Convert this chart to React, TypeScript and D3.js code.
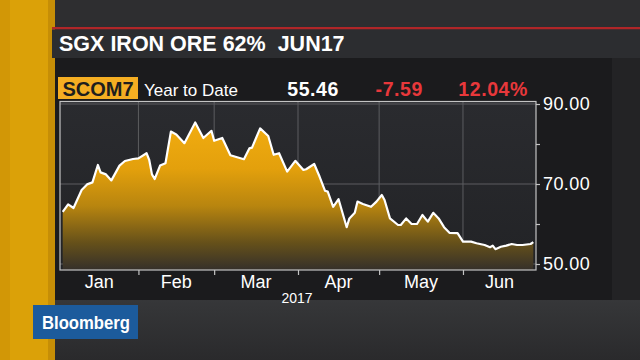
import React, { useEffect, useRef } from "react";
import * as d3 from "d3";

// SCOM7 settlement
const dates = [
  "2017-01-04", "2017-01-06", "2017-01-08", "2017-01-11", "2017-01-13", "2017-01-15",
  "2017-01-17", "2017-01-18", "2017-01-20", "2017-01-22", "2017-01-25", "2017-01-27",
  "2017-01-30", "2017-02-01", "2017-02-04", "2017-02-05", "2017-02-06", "2017-02-07",
  "2017-02-09", "2017-02-11", "2017-02-13", "2017-02-15", "2017-02-18", "2017-02-22",
  "2017-02-25", "2017-02-28", "2017-03-01", "2017-03-04", "2017-03-07", "2017-03-12",
  "2017-03-14", "2017-03-15", "2017-03-18", "2017-03-21", "2017-03-23", "2017-03-25",
  "2017-03-28", "2017-03-31", "2017-04-03", "2017-04-04", "2017-04-07", "2017-04-09",
  "2017-04-11", "2017-04-12", "2017-04-14", "2017-04-16", "2017-04-19", "2017-04-20",
  "2017-04-22", "2017-04-23", "2017-04-25", "2017-04-28", "2017-04-30", "2017-05-02",
  "2017-05-03", "2017-05-05", "2017-05-08", "2017-05-09", "2017-05-11", "2017-05-13",
  "2017-05-15", "2017-05-17", "2017-05-19", "2017-05-21", "2017-05-23", "2017-05-25",
  "2017-05-27", "2017-05-30", "2017-06-01", "2017-06-04", "2017-06-06", "2017-06-09",
  "2017-06-11", "2017-06-12", "2017-06-13", "2017-06-15", "2017-06-17", "2017-06-19",
  "2017-06-21", "2017-06-23", "2017-06-26", "2017-06-27",
];
const prices = [
  63.05, 64.9, 64.0, 68.5, 69.9, 70.4,
  74.75, 72.9, 72.4, 70.9, 74.6, 75.75,
  76.25, 76.4, 77.7, 76.0, 72.4, 71.25,
  74.6, 75.2, 83.1, 82.4, 80.2, 85.4,
  81.5, 83.3, 80.8, 81.5, 77.2, 76.2,
  78.9, 79.1, 83.9, 82.0, 77.3, 77.7,
  73.1, 75.8, 73.5, 73.7, 75.0, 71.8,
  68.3, 68.1, 64.3, 66.2, 59.2, 61.4,
  62.8, 65.6, 65.0, 64.3, 65.6, 67.25,
  66.0, 61.4, 59.75, 59.75, 61.4, 60.0,
  60.0, 62.25, 60.6, 62.8, 61.4, 59.2,
  57.8, 57.7, 55.6, 55.6, 55.2, 54.75,
  54.2, 54.6, 53.7, 54.3, 54.6, 55.0,
  54.75, 54.75, 55.0, 55.46,
];
const yTicks = [50, 60, 70, 80, 90];
const yLabelled = [50, 70, 90];
const xStart = "2017-01-03";
const xEnd = "2017-06-28";
const yearLabel = "2017";
const title = "SGX IRON ORE 62%\u00a0\u00a0JUN17";
const ticker = "SCOM7";
const period = "Year to Date";
const lastPrice = "55.46";
const netChange = "-7.59";
const pctChange = "12.04%";

const FONT = "'Liberation Sans', Arial, sans-serif";

function App() {
  const ref = useRef<SVGSVGElement>(null);

  useEffect(() => {
    document.body.style.margin = "0";
    drawChart();
  }, []);

  function drawChart() {
    const W = 640,
      H = 360;
    const left = 60,
      right = 536,
      top = 101.5,
      bottom = 270;

    const svg = d3.select(ref.current);
    svg.selectAll("*").remove();

    const parse = d3.timeParse("%Y-%m-%d");
    const data = dates.map((d, i) => ({ date: parse(d) as Date, value: prices[i] }));

    const xScale = d3
      .scaleTime()
      .domain([parse(xStart) as Date, parse(xEnd) as Date])
      .range([left, right]);
    const yScale = d3.scaleLinear().domain([48.5, 90.625]).range([bottom, top]);

    const defs = svg.append("defs");
    const areaGrad = defs
      .append("linearGradient")
      .attr("id", "areaGrad")
      .attr("gradientUnits", "userSpaceOnUse")
      .attr("x1", 0)
      .attr("x2", 0)
      .attr("y1", top)
      .attr("y2", bottom);
    [
      [0, "#f8b212"],
      [0.4, "#e3a00c"],
      [0.62, "#b8850f"],
      [0.84, "#65501a"],
      [1, "#35302a"],
    ].forEach(([o, c]) => areaGrad.append("stop").attr("offset", o).attr("stop-color", c));

    const bgGrad = defs
      .append("linearGradient")
      .attr("id", "bgGrad")
      .attr("x1", 0)
      .attr("x2", 0)
      .attr("y1", 0)
      .attr("y2", 1);
    bgGrad.append("stop").attr("offset", 0).attr("stop-color", "#363739");
    bgGrad.append("stop").attr("offset", 1).attr("stop-color", "#2a2a2c");

    const plotGrad = defs
      .append("linearGradient")
      .attr("id", "plotGrad")
      .attr("x1", 0)
      .attr("x2", 0)
      .attr("y1", 0)
      .attr("y2", 1);
    plotGrad.append("stop").attr("offset", 0).attr("stop-color", "#2a2b2f");
    plotGrad.append("stop").attr("offset", 1).attr("stop-color", "#222326");

    // backdrop
    svg.append("rect").attr("width", W).attr("height", H).attr("fill", "#2a2a2c");
    svg.append("rect").attr("x", 55).attr("y", 0).attr("width", W - 55).attr("height", 28).attr("fill", "#2e2e30");
    svg.append("rect").attr("x", 55).attr("y", 300).attr("width", W - 55).attr("height", 60).attr("fill", "url(#bgGrad)");

    // gold strip on the left
    svg.append("rect").attr("x", 0).attr("y", 0).attr("width", 55).attr("height", H).attr("fill", "#dba108");
    svg.append("rect").attr("x", 0).attr("y", 0).attr("width", 10).attr("height", H).attr("fill", "#d29706");
    svg.append("rect").attr("x", 48).attr("y", 0).attr("width", 7).attr("height", H).attr("fill", "#c68e06");

    // title bar
    svg.append("rect").attr("x", 52).attr("y", 27).attr("width", W - 52).attr("height", 2.5).attr("fill", "#b02628");
    svg.append("rect").attr("x", 52).attr("y", 29.5).attr("width", W - 52).attr("height", 28.5).attr("fill", "#2c2d30");
    svg
      .append("text")
      .attr("x", 59)
      .attr("y", 51)
      .attr("fill", "#ffffff")
      .attr("font-family", FONT)
      .attr("font-weight", "bold")
      .attr("font-size", 21.5)
      .text(title);

    // panel
    svg.append("rect").attr("x", 55).attr("y", 58).attr("width", 557).attr("height", 242).attr("fill", "#1b1b1d");
    svg.append("rect").attr("x", 612).attr("y", 58).attr("width", 28).attr("height", 242).attr("fill", "#232325");

    // header row
    svg.append("rect").attr("x", 58).attr("y", 77).attr("width", 80).attr("height", 22).attr("fill", "#f5ae22");
    svg
      .append("text")
      .attr("x", 98)
      .attr("y", 95.5)
      .attr("text-anchor", "middle")
      .attr("fill", "#1e1e1e")
      .attr("font-family", FONT)
      .attr("font-weight", "bold")
      .attr("font-size", 20)
      .text(ticker);
    svg
      .append("text")
      .attr("x", 144)
      .attr("y", 96)
      .attr("fill", "#ffffff")
      .attr("font-family", FONT)
      .attr("font-size", 17)
      .text(period);
    const stats = [
      { t: lastPrice, x: 339, c: "#ffffff" },
      { t: netChange, x: 423, c: "#e8383b" },
      { t: pctChange, x: 528, c: "#e8383b" },
    ];
    stats.forEach((s) =>
      svg
        .append("text")
        .attr("x", s.x)
        .attr("y", 96)
        .attr("text-anchor", "end")
        .attr("fill", s.c)
        .attr("font-family", FONT)
        .attr("font-weight", "bold")
        .attr("font-size", 19.5)
        .attr("letter-spacing", 0.6)
        .text(s.t)
    );

    // plot
    svg
      .append("rect")
      .attr("x", left)
      .attr("y", top)
      .attr("width", right - left)
      .attr("height", bottom - top)
      .attr("fill", "url(#plotGrad)");

    const monthStarts = d3.timeMonth.range(xScale.domain()[0], xScale.domain()[1]);
    // vertical grid at month boundaries
    svg
      .append("g")
      .selectAll("line")
      .data(monthStarts)
      .join("line")
      .attr("x1", (d) => xScale(d))
      .attr("x2", (d) => xScale(d))
      .attr("y1", top)
      .attr("y2", bottom)
      .attr("stroke", "#5c5d60")
      .attr("stroke-width", 1);
    // horizontal grid at labelled values
    svg
      .append("g")
      .selectAll("line")
      .data(yLabelled)
      .join("line")
      .attr("x1", left)
      .attr("x2", right)
      .attr("y1", (d) => yScale(d))
      .attr("y2", (d) => yScale(d))
      .attr("stroke", "#5c5d60")
      .attr("stroke-width", 1);

    const area = d3
      .area<{ date: Date; value: number }>()
      .x((d) => xScale(d.date))
      .y0(bottom)
      .y1((d) => yScale(d.value));
    const line = d3
      .line<{ date: Date; value: number }>()
      .x((d) => xScale(d.date))
      .y((d) => yScale(d.value));

    svg.append("path").datum(data).attr("fill", "url(#areaGrad)").attr("d", area);
    svg
      .append("path")
      .datum(data)
      .attr("fill", "none")
      .attr("stroke", "#ffffff")
      .attr("stroke-width", 2.2)
      .attr("stroke-linejoin", "round")
      .attr("d", line);

    svg
      .append("rect")
      .attr("x", left)
      .attr("y", top)
      .attr("width", right - left)
      .attr("height", bottom - top)
      .attr("fill", "none")
      .attr("stroke", "#c4c4c4")
      .attr("stroke-width", 1.2);

    // right axis
    const fmt = d3.format(".2f");
    const yAxis = svg
      .append("g")
      .attr("transform", `translate(${right},0)`)
      .call(
        d3
          .axisRight(yScale)
          .tickValues(yTicks)
          .tickSize(4)
          .tickPadding(3)
          .tickFormat((d) => (yLabelled.includes(+d) ? fmt(+d) : ""))
      );
    yAxis.select(".domain").remove();
    yAxis.selectAll("line").attr("stroke", "#c4c4c4").attr("stroke-width", 1.2);
    yAxis
      .selectAll("text")
      .attr("fill", "#ffffff")
      .attr("font-family", FONT)
      .attr("font-size", 18)
      .attr("letter-spacing", 0.4);

    // bottom axis: boundary ticks only
    const xAxis = svg
      .append("g")
      .attr("transform", `translate(0,${bottom})`)
      .call(d3.axisBottom(xScale).tickValues(monthStarts).tickSize(5).tickFormat(() => ""));
    xAxis.select(".domain").remove();
    xAxis.selectAll("line").attr("stroke", "#c4c4c4").attr("stroke-width", 1.2);

    // month labels centred in each month span
    const [d0, d1] = xScale.domain();
    const monthSpans = d3.timeMonth.range(d3.timeMonth.floor(d0), d1).map((m) => {
      const a = m < d0 ? d0 : m;
      const nxt = d3.timeMonth.offset(m, 1);
      const b = nxt > d1 ? d1 : nxt;
      return { m, cx: (xScale(a) + xScale(b)) / 2 };
    });
    svg
      .append("g")
      .selectAll("text")
      .data(monthSpans)
      .join("text")
      .attr("x", (d) => d.cx)
      .attr("y", 288)
      .attr("text-anchor", "middle")
      .attr("fill", "#ffffff")
      .attr("font-family", FONT)
      .attr("font-size", 18)
      .text((d) => d3.timeFormat("%b")(d.m));
    svg
      .append("text")
      .attr("x", 297)
      .attr("y", 303)
      .attr("text-anchor", "middle")
      .attr("fill", "#ffffff")
      .attr("font-family", FONT)
      .attr("font-size", 14)
      .text(yearLabel);

    // Bloomberg logo
    svg.append("rect").attr("x", 33).attr("y", 305).attr("width", 105).attr("height", 34).attr("fill", "#1c5b9c");
    svg
      .append("text")
      .attr("x", 42)
      .attr("y", 329)
      .attr("fill", "#ffffff")
      .attr("font-family", FONT)
      .attr("font-weight", "bold")
      .attr("font-size", 18)
      .attr("textLength", 88)
      .attr("lengthAdjust", "spacingAndGlyphs")
      .text("Bloomberg");
  }

  return (
    <svg
      ref={ref}
      width={640}
      height={360}
      style={{ display: "block", position: "absolute", left: 0, top: 0 }}
    />
  );
}

export default App;
